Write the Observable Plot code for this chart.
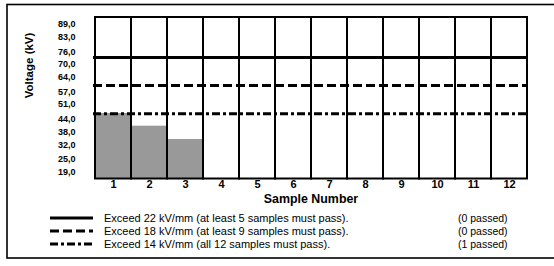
<!DOCTYPE html>
<html>
<head>
<meta charset="utf-8">
<script src="https://cdn.jsdelivr.net/npm/d3@7"></script>
<script src="https://cdn.jsdelivr.net/npm/@observablehq/plot@0.6"></script>
<style>
  html, body { margin: 0; padding: 0; background: #fff; }
  #chart { width: 554px; height: 266px; }
</style>
</head>
<body>
<div id="chart"></div>
<script>
const samples = [1, 2, 3, 4, 5, 6, 7, 8, 9, 10, 11, 12];
const barSamples = [1, 2, 3];
const barVoltages = [46.8, 40.8, 34.5];
const yTickValues = [19, 25, 32, 38, 44, 51, 57, 64, 70, 76, 83, 89];
const yDomain = [15.83, 92.17];
const thresholdValues = [73.3, 60.0, 46.7];
const thresholdDash = [null, "9,4", "8,3,3,3"];
const legendLabels = [
  "Exceed 22 kV/mm (at least 5 samples must pass).",
  "Exceed 18 kV/mm (at least 9 samples must pass).",
  "Exceed 14 kV/mm (all 12 samples must pass)."
];
const passedLabels = ["(0 passed)", "(0 passed)", "(1 passed)"];
const xTitle = "Sample Number";
const yTitle = "Voltage (kV)";

const FONT = "'Liberation Sans', Arial, Helvetica, sans-serif";
const bars = barSamples.map((s, i) => ({sample: s, v: barVoltages[i]}));
const fmt = d => d.toFixed(1).replace(".", ",");

const plot = Plot.plot({
  width: 554,
  height: 266,
  marginLeft: 93,
  marginRight: 26,
  marginTop: 17,
  marginBottom: 87.5,
  style: {fontFamily: FONT, background: "#fff", color: "#000", overflow: "visible"},
  x: {type: "band", domain: samples, padding: 0, axis: null},
  y: {domain: yDomain, axis: null},
  marks: [
    Plot.rectY(bars, {x: "sample", y1: yDomain[0], y2: "v", fill: "#999999", inset: 0}),
    Plot.rectY(samples, {x: d => d, y1: yDomain[0], y2: yDomain[1], fill: "none", stroke: "#000", strokeWidth: 2, inset: 0}),
    ...thresholdValues.map((t, i) => Plot.ruleY([t], {stroke: "#000", strokeWidth: 3, strokeDasharray: thresholdDash[i] || undefined})),
    Plot.text(yTickValues, {y: d => d, frameAnchor: "left", dx: -18, textAnchor: "end", text: fmt, fontWeight: "bold", fontSize: 9, fill: "#000"}),
    Plot.text(samples, {x: d => d, frameAnchor: "bottom", dy: 9, text: d => String(d), fontWeight: "bold", fontSize: 11, fill: "#000"}),
    Plot.text([xTitle], {frameAnchor: "bottom", dy: 23.5, text: d => d, fontWeight: "bold", fontSize: 12.4, fill: "#000"}),
    Plot.text([yTitle], {frameAnchor: "left", dx: -64, rotate: -90, text: d => d, fontWeight: "bold", fontSize: 11.5, fill: "#000"})
  ]
});

const svg = d3.select(plot);
// outer border
svg.append("rect")
  .attr("x", 7).attr("y", 4.5).attr("width", 560).attr("height", 253.5)
  .attr("fill", "none").attr("stroke", "#000").attr("stroke-width", 1.6);

// legend
const rowY = [218, 231, 244];
legendLabels.forEach((lab, i) => {
  const g = svg.append("g").attr("text-anchor", "start");
  const ln = g.append("line")
    .attr("x1", 50).attr("x2", 93).attr("y1", rowY[i]).attr("y2", rowY[i])
    .attr("stroke", "#000").attr("stroke-width", 3);
  if (thresholdDash[i]) ln.attr("stroke-dasharray", thresholdDash[i]);
  g.append("text").attr("x", 104).attr("y", rowY[i]).attr("dy", "0.35em")
    .attr("text-anchor", "start")
    .attr("font-size", 11).attr("font-family", FONT).attr("fill", "#000").text(lab);
  g.append("text").attr("x", 458).attr("y", rowY[i]).attr("dy", "0.35em")
    .attr("text-anchor", "start")
    .attr("font-size", 10.5).attr("font-family", FONT).attr("fill", "#000").text(passedLabels[i]);
});

document.getElementById("chart").append(plot);
</script>
</body>
</html>
